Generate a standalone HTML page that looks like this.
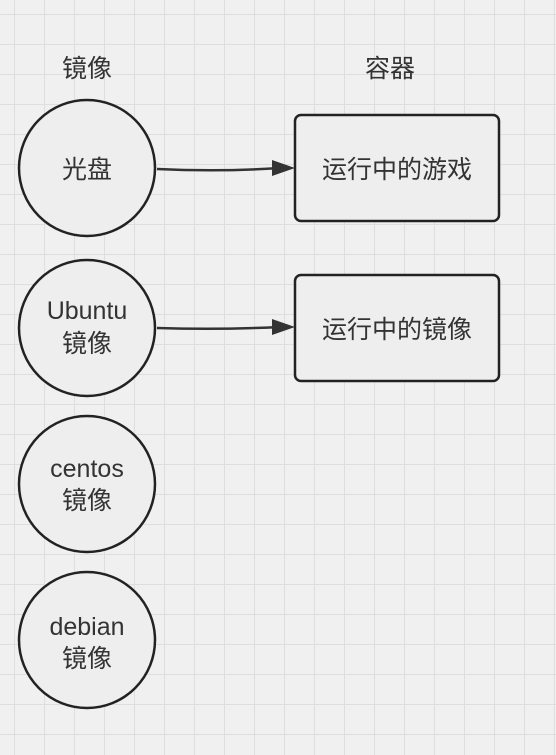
<!DOCTYPE html>
<html><head><meta charset="utf-8"><style>
html,body{margin:0;padding:0}
body{width:556px;height:755px;overflow:hidden;background-color:#f0f0f0;
background-image:linear-gradient(#dedede 1px,transparent 1px),linear-gradient(90deg,#dedede 1px,transparent 1px);
background-size:30px 30px;background-position:0 14px,14px 0;}
</style></head><body>
<svg width="556" height="755" style="position:absolute;left:0;top:0" font-family="Liberation Sans, Noto Sans CJK SC, sans-serif" font-size="25" fill="#333">
<g fill="#333" text-anchor="middle">
<text x="87" y="77">镜像</text>
<text x="390" y="77">容器</text>
</g>
<g fill="#eeeeee" stroke="#222" stroke-width="2.5">
<circle cx="87" cy="168" r="68"/>
<circle cx="87" cy="328" r="68"/>
<circle cx="87" cy="484" r="68"/>
<circle cx="87" cy="640" r="68"/>
<rect x="295" y="115" width="204" height="106" rx="6"/>
<rect x="295" y="275" width="204" height="106" rx="6"/>
</g>
<g fill="none" stroke="#333" stroke-width="2.5">
<path d="M157,169 Q220,172 280,168"/>
<path d="M157,328 Q220,330 280,327"/>
</g>
<path d="M272,160 L295,168 L272,176 Z" fill="#333"/>
<path d="M272,319 L295,327 L272,335 Z" fill="#333"/>
<g fill="#333" text-anchor="middle">
<text x="87" y="178">光盘</text>
<text x="87" y="319">Ubuntu</text>
<text x="87" y="352">镜像</text>
<text x="87" y="477">centos</text>
<text x="87" y="509">镜像</text>
<text x="87" y="635">debian</text>
<text x="87" y="667">镜像</text>
<text x="397" y="178">运行中的游戏</text>
<text x="397" y="338">运行中的镜像</text>
</g>
</svg>
</body></html>
